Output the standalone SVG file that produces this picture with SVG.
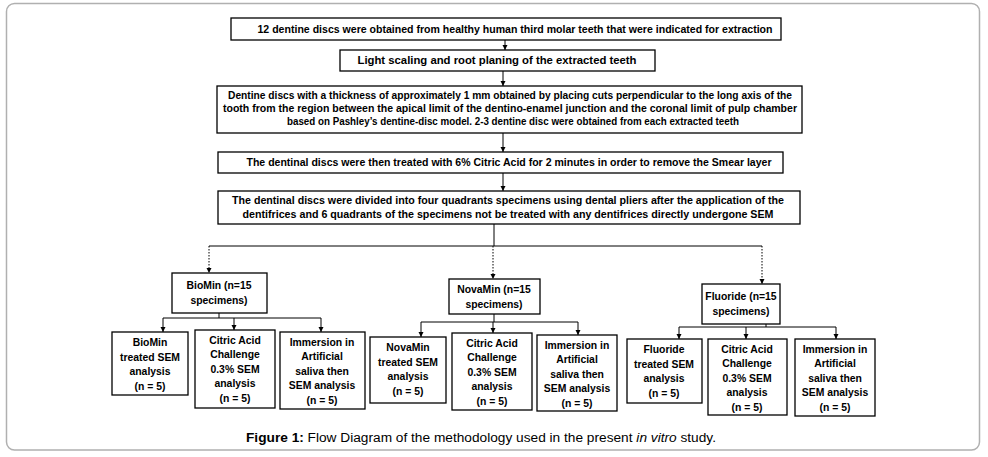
<svg xmlns="http://www.w3.org/2000/svg" width="988" height="457" viewBox="0 0 988 457">
<defs>
<marker id="ah" markerWidth="6" markerHeight="6" refX="5" refY="3" orient="auto" markerUnits="userSpaceOnUse"><path d="M0,0.5 L5,3 L0,5.5 z" fill="#000"/></marker>
</defs>
<style>
.box{fill:#fff;stroke:#000;stroke-width:1.3}
.t{font-family:"Liberation Sans",Arial,sans-serif;font-weight:bold;font-size:10.8px;fill:#000;text-anchor:middle}
.s{font-family:"Liberation Sans",Arial,sans-serif;font-weight:bold;font-size:10.4px;fill:#000;text-anchor:middle}
.ln{stroke:#000;stroke-width:1;fill:none}
.dot{stroke:#000;stroke-width:1;fill:none;stroke-dasharray:1.5 1.5}
.cap{font-family:"Liberation Sans",Arial,sans-serif;font-size:12px;fill:#000}
</style>
<rect x="6.5" y="3.5" width="973" height="446.5" rx="8" fill="#fff" stroke="#b0b0b0" stroke-width="1.5"/>

<g id="connectors">
<line class="ln" x1="505" y1="40" x2="505" y2="50" marker-end="url(#ah)"/>
<line class="ln" x1="503" y1="71" x2="503" y2="86" marker-end="url(#ah)"/>
<line class="ln" x1="503" y1="133" x2="503" y2="152" marker-end="url(#ah)"/>
<line class="ln" x1="503" y1="173" x2="503" y2="191" marker-end="url(#ah)"/>
<line class="ln" x1="494" y1="224" x2="494" y2="246"/>
<line class="ln" x1="209" y1="246" x2="762" y2="246" stroke="#333"/>
<line class="dot" x1="209" y1="246" x2="209" y2="273" marker-end="url(#ah)"/>
<line class="dot" x1="493" y1="246" x2="493" y2="279" marker-end="url(#ah)"/>
<line class="dot" x1="762" y1="246" x2="762" y2="284" marker-end="url(#ah)"/>
<path class="ln" d="M219,313 V318 M163,318 H321"/>
<line class="ln" x1="163" y1="318" x2="163" y2="332" marker-end="url(#ah)"/>
<line class="ln" x1="234" y1="318" x2="234" y2="330" marker-end="url(#ah)"/>
<line class="ln" x1="321" y1="318" x2="321" y2="332" marker-end="url(#ah)"/>
<path class="ln" d="M494,314 V322 M421,322 H578"/>
<line class="ln" x1="421" y1="322" x2="421" y2="337" marker-end="url(#ah)"/>
<line class="ln" x1="493" y1="322" x2="493" y2="333" marker-end="url(#ah)"/>
<line class="ln" x1="578" y1="322" x2="578" y2="335" marker-end="url(#ah)"/>
<path class="ln" d="M766,324 V327 M679,327 H836"/>
<line class="ln" x1="679" y1="327" x2="679" y2="339" marker-end="url(#ah)"/>
<line class="ln" x1="746" y1="327" x2="746" y2="339" marker-end="url(#ah)"/>
<line class="ln" x1="836" y1="327" x2="836" y2="339" marker-end="url(#ah)"/>
</g>

<g id="n1"><rect class="box" x="231" y="18" width="550" height="22"/>
<text class="t" x="515" y="33" textLength="515" lengthAdjust="spacingAndGlyphs">12 dentine discs were  obtained from healthy human third molar teeth  that were indicated for extraction</text></g>
<g id="n2"><rect class="box" x="340" y="50" width="315" height="21"/>
<text class="t" x="497" y="64" textLength="279" lengthAdjust="spacingAndGlyphs">Light scaling and root planing of the extracted teeth</text></g>
<g id="n3"><rect class="box" x="217" y="86" width="585" height="47"/>
<text class="t" x="510" y="99" textLength="564" lengthAdjust="spacingAndGlyphs">Dentine discs with a thickness of approximately 1 mm obtained by placing cuts perpendicular to the long axis of the</text>
<text class="t" x="510" y="112" textLength="574" lengthAdjust="spacingAndGlyphs">tooth from the region between the apical limit of the dentino-enamel junction and the coronal limit of pulp chamber</text>
<text class="t" x="513" y="125" textLength="452" lengthAdjust="spacingAndGlyphs">based on Pashley’s dentine-disc model. 2-3 dentine disc were obtained from each extracted teeth</text></g>
<g id="n4"><rect class="box" x="218" y="152" width="565" height="21"/>
<text class="t" x="509" y="166" textLength="525" lengthAdjust="spacingAndGlyphs">The dentinal discs were then treated with 6% Citric Acid for 2 minutes in order to remove the Smear layer</text></g>
<g id="n5"><rect class="box" x="218" y="191" width="582" height="33"/>
<text class="t" x="508" y="204" textLength="552" lengthAdjust="spacingAndGlyphs">The dentinal discs were divided into four quadrants specimens using dental pliers after the application of the</text>
<text class="t" x="508" y="218" textLength="531" lengthAdjust="spacingAndGlyphs">dentifrices and  6 quadrants of the specimens not be treated with any dentifrices directly undergone SEM</text></g>

<g id="biomin"><rect class="box" x="172" y="273" width="95" height="40"/>
<text class="s" x="219" y="289">BioMin (n=15</text><text class="s" x="219" y="304">specimens)</text></g>
<g id="novamin"><rect class="box" x="449" y="279" width="91" height="35"/>
<text class="s" x="494" y="293">NovaMin (n=15</text><text class="s" x="494" y="308">specimens)</text></g>
<g id="fluoride"><rect class="box" x="702" y="284" width="78" height="40"/>
<text class="s" x="741" y="300">Fluoride (n=15</text><text class="s" x="741" y="315">specimens)</text></g>

<g id="b1"><rect class="box" x="112" y="332" width="76" height="63"/>
<text class="s" x="150" y="346">BioMin</text><text class="s" x="150" y="361">treated SEM</text><text class="s" x="150" y="375">analysis</text><text class="s" x="150" y="390">(n = 5)</text></g>
<g id="b2"><rect class="box" x="195" y="330" width="80" height="78"/>
<text class="s" x="235" y="344">Citric Acid</text><text class="s" x="235" y="358">Challenge</text><text class="s" x="235" y="373">0.3% SEM</text><text class="s" x="235" y="387">analysis</text><text class="s" x="235" y="402">(n = 5)</text></g>
<g id="b3"><rect class="box" x="280" y="332" width="85" height="77"/>
<text class="s" x="322" y="346">Immersion in</text><text class="s" x="322" y="360">Artificial</text><text class="s" x="322" y="375">saliva then</text><text class="s" x="322" y="389">SEM analysis</text><text class="s" x="322" y="404">(n = 5)</text></g>

<g id="nv1"><rect class="box" x="370" y="337" width="76" height="66"/>
<text class="s" x="408" y="351">NovaMin</text><text class="s" x="408" y="366">treated SEM</text><text class="s" x="408" y="380">analysis</text><text class="s" x="408" y="395">(n = 5)</text></g>
<g id="nv2"><rect class="box" x="452" y="333" width="80" height="77"/>
<text class="s" x="492" y="347">Citric Acid</text><text class="s" x="492" y="361">Challenge</text><text class="s" x="492" y="376">0.3% SEM</text><text class="s" x="492" y="390">analysis</text><text class="s" x="492" y="405">(n = 5)</text></g>
<g id="nv3"><rect class="box" x="537" y="335" width="80" height="76"/>
<text class="s" x="577" y="349">Immersion in</text><text class="s" x="577" y="363">Artificial</text><text class="s" x="577" y="378">saliva then</text><text class="s" x="577" y="392">SEM analysis</text><text class="s" x="577" y="407">(n = 5)</text></g>

<g id="f1"><rect class="box" x="627" y="339" width="75" height="64"/>
<text class="s" x="664" y="353">Fluoride</text><text class="s" x="664" y="368">treated SEM</text><text class="s" x="664" y="382">analysis</text><text class="s" x="664" y="397">(n = 5)</text></g>
<g id="f2"><rect class="box" x="708" y="339" width="79" height="76"/>
<text class="s" x="747" y="353">Citric Acid</text><text class="s" x="747" y="367">Challenge</text><text class="s" x="747" y="382">0.3% SEM</text><text class="s" x="747" y="396">analysis</text><text class="s" x="747" y="411">(n = 5)</text></g>
<g id="f3"><rect class="box" x="795" y="339" width="80" height="77"/>
<text class="s" x="835" y="353">Immersion in</text><text class="s" x="835" y="367">Artificial</text><text class="s" x="835" y="382">saliva then</text><text class="s" x="835" y="396">SEM analysis</text><text class="s" x="835" y="411">(n = 5)</text></g>

<text class="cap" x="481" y="442" text-anchor="middle" textLength="470" lengthAdjust="spacingAndGlyphs"><tspan font-weight="bold">Figure 1:</tspan> Flow Diagram of the methodology used in the present <tspan font-style="italic">in vitro</tspan> study.</text>
</svg>
